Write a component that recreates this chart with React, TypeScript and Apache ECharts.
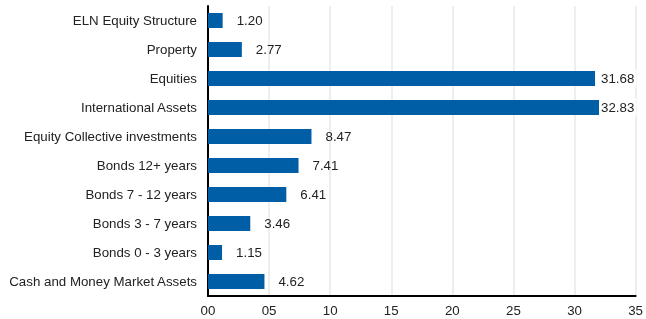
import React, { useEffect, useRef } from "react";
import * as echarts from "echarts";

const categories = [
  "ELN Equity Structure",
  "Property",
  "Equities",
  "International Assets",
  "Equity Collective investments",
  "Bonds 12+ years",
  "Bonds 7 - 12 years",
  "Bonds 3 - 7 years",
  "Bonds 0 - 3 years",
  "Cash and Money Market Assets",
];
const values = [1.2, 2.77, 31.68, 32.83, 8.47, 7.41, 6.41, 3.46, 1.15, 4.62];

const FONT = "Liberation Sans, Arial, sans-serif";

export default function App() {
  const ref = useRef<HTMLDivElement>(null);
  useEffect(() => {
    if (!ref.current) return;
    const chart = echarts.init(ref.current, undefined, { renderer: "svg" });
    chart.setOption({
      animation: false,
      grid: { left: 208, right: 8, top: 6, bottom: 23, containLabel: false },
      xAxis: {
        type: "value",
        min: 0,
        max: 35,
        interval: 5,
        axisLine: { show: true, lineStyle: { color: "#000", width: 2 } },
        axisTick: { show: false },
        splitLine: { show: true, lineStyle: { color: "#e8e8e8", width: 1.5 } },
        axisLabel: {
          color: "#222",
          fontFamily: FONT,
          fontSize: 13.3,
          margin: 8,
          formatter: (v: number) => (v < 10 ? "0" + v : String(v)),
        },
      },
      yAxis: {
        type: "category",
        data: categories,
        inverse: true,
        axisLine: { show: true, lineStyle: { color: "#000", width: 2 } },
        axisTick: { show: false },
        splitLine: { show: false },
        axisLabel: {
          color: "#222",
          fontFamily: FONT,
          fontSize: 13.3,
          margin: 11,
        },
      },
      series: [
        {
          type: "bar",
          barWidth: 15,
          itemStyle: { color: "#005ea6" },
          z: 2,
          data: values.map((v) => ({
            value: v,
            label:
              v > 30
                ? {
                    position: [391, "50%"],
                    align: "left",
                    verticalAlign: "middle",
                    backgroundColor: "#fff",
                    padding: [3, 2, 2, 2],
                  }
                : { distance: 14 },
          })),
          label: {
            show: true,
            position: "right",
            color: "#222",
            fontFamily: FONT,
            fontSize: 13.3,
            formatter: (p: any) => p.value.toFixed(2),
          },
        },
      ],
    });
    return () => chart.dispose();
  }, []);
  return (
    <div
      ref={ref}
      style={{ position: "fixed", left: 0, top: 0, width: 646, height: 319 }}
    />
  );
}
